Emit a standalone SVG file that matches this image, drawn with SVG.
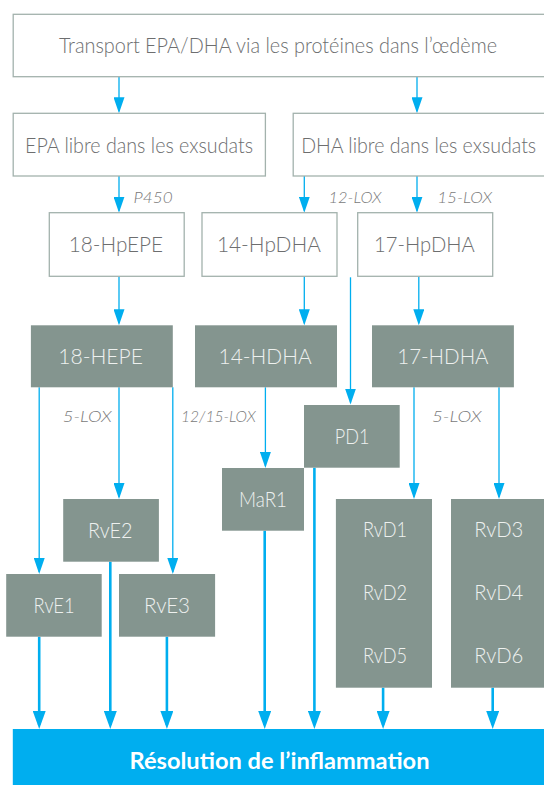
<svg xmlns="http://www.w3.org/2000/svg" width="544" height="785" viewBox="0 0 544 785">
<style>
.wbox{fill:#ffffff;stroke:#a3b2ad;stroke-width:1.3}
.dbox{fill:#84958f}
.wt{font-family:Lato,"Liberation Sans",sans-serif;font-weight:300;font-size:21.5px;fill:#6d6e6f;text-anchor:middle}
.dt{font-family:Lato,"Liberation Sans",sans-serif;font-weight:300;font-size:21.5px;fill:#eef1ef;text-anchor:middle}
.lbl{font-family:Lato,"Liberation Sans",sans-serif;font-weight:300;font-style:italic;font-size:16px;fill:#7a7a7a}
.res{font-family:Lato,"Liberation Sans",sans-serif;font-weight:700;font-size:23px;fill:#ffffff;text-anchor:middle}
.thin{stroke:#00aeef;stroke-width:1.3;fill:none;marker-end:url(#ah)}
.thick{stroke:#00aeef;stroke-width:2.6;fill:none;marker-end:url(#ahb)}
</style>
<defs>
<marker id="ah" markerUnits="userSpaceOnUse" markerWidth="16" markerHeight="11" viewBox="0 0 16 11" refX="14" refY="5.5" orient="auto">
<path d="M0,0 L16,5.5 L0,11 z" fill="#00aeef"/>
</marker>
<marker id="ahb" markerUnits="userSpaceOnUse" markerWidth="18" markerHeight="13" viewBox="0 0 18 13" refX="14" refY="6.5" orient="auto">
<path d="M0,0 L18,6.5 L0,13 z" fill="#00aeef"/>
</marker>
</defs>

<g id="connectors">
<line class="thin" x1="119" y1="76.7" x2="119" y2="111.3"/>
<line class="thin" x1="417" y1="76.7" x2="417" y2="111.3"/>
<line class="thin" x1="119" y1="176" x2="119" y2="210.7"/>
<line class="thin" x1="304.3" y1="176" x2="304.3" y2="210.7"/>
<line class="thin" x1="417" y1="176" x2="417" y2="210.7"/>
<line class="thin" x1="119" y1="276.3" x2="119" y2="323.3"/>
<line class="thin" x1="304.3" y1="276.3" x2="304.3" y2="323.3"/>
<line class="thin" x1="418.8" y1="276.3" x2="418.8" y2="323.3"/>
<line class="thin" x1="350.5" y1="277.3" x2="350.5" y2="402.5"/>
<line class="thin" x1="39.2" y1="387.3" x2="39.2" y2="572"/>
<line class="thin" x1="119" y1="387.3" x2="119" y2="497"/>
<line class="thin" x1="172.8" y1="387.3" x2="172.8" y2="572"/>
<line class="thin" x1="265.4" y1="387.3" x2="265.4" y2="466"/>
<line class="thin" x1="414" y1="387.3" x2="414" y2="497"/>
<line class="thin" x1="499" y1="387.3" x2="499" y2="497"/>
<line class="thick" x1="39.2" y1="636.7" x2="39.2" y2="725"/>
<line class="thick" x1="110.3" y1="561.7" x2="110.3" y2="725"/>
<line class="thick" x1="166.9" y1="636.7" x2="166.9" y2="725"/>
<line class="thick" x1="264.7" y1="530.7" x2="264.7" y2="725"/>
<line class="thick" x1="314.4" y1="467.7" x2="314.4" y2="725"/>
<line class="thick" x1="383.1" y1="687.7" x2="383.1" y2="725"/>
<line class="thick" x1="492.7" y1="687.7" x2="492.7" y2="725"/>
</g>

<g id="labels">
<text class="lbl" x="133.6" y="202.7" textLength="39" lengthAdjust="spacingAndGlyphs">P450</text>
<text class="lbl" x="328.6" y="202.7" textLength="53" lengthAdjust="spacingAndGlyphs">12-LOX</text>
<text class="lbl" x="437.2" y="202.7" textLength="55" lengthAdjust="spacingAndGlyphs">15-LOX</text>
<text class="lbl" x="62.8" y="421.7" textLength="49" lengthAdjust="spacingAndGlyphs">5-LOX</text>
<text class="lbl" x="181.1" y="421.7" textLength="74.6" lengthAdjust="spacingAndGlyphs">12/15-LOX</text>
<text class="lbl" x="432" y="421.7" textLength="49.6" lengthAdjust="spacingAndGlyphs">5-LOX</text>
</g>

<g id="transport">
<rect class="wbox" x="13.2" y="14.3" width="540" height="62.4"/>
<text class="wt" x="278" y="53.3" textLength="438" lengthAdjust="spacingAndGlyphs">Transport EPA/DHA via les protéines dans l’œdème</text>
</g>
<g id="epa">
<rect class="wbox" x="13.2" y="113.3" width="252.2" height="62.7"/>
<text class="wt" x="139" y="153.3" textLength="228" lengthAdjust="spacingAndGlyphs">EPA libre dans les exsudats</text>
</g>
<g id="dha">
<rect class="wbox" x="293.2" y="113.3" width="260" height="62.7"/>
<text class="wt" x="418.7" y="153.3" textLength="235" lengthAdjust="spacingAndGlyphs">DHA libre dans les exsudats</text>
</g>
<g id="hpepe18">
<rect class="wbox" x="49.3" y="212.7" width="134.9" height="63.6"/>
<text class="wt" x="115.9" y="251.7" textLength="94.4" lengthAdjust="spacingAndGlyphs">18-HpEPE</text>
</g>
<g id="hpdha14">
<rect class="wbox" x="202" y="212.7" width="135" height="63.6"/>
<text class="wt" x="268.9" y="251.7" textLength="104" lengthAdjust="spacingAndGlyphs">14-HpDHA</text>
</g>
<g id="hpdha17">
<rect class="wbox" x="357.7" y="212.7" width="135" height="63.6"/>
<text class="wt" x="424.4" y="251.7" textLength="100.6" lengthAdjust="spacingAndGlyphs">17-HpDHA</text>
</g>
<g id="hepe18">
<rect class="dbox" x="30.9" y="325.3" width="141.9" height="62"/>
<text class="dt" x="100.6" y="364" textLength="84.7" lengthAdjust="spacingAndGlyphs">18-HEPE</text>
</g>
<g id="hdha14">
<rect class="dbox" x="195" y="325.3" width="142" height="62"/>
<text class="dt" x="265.1" y="364" textLength="93" lengthAdjust="spacingAndGlyphs">14-HDHA</text>
</g>
<g id="hdha17">
<rect class="dbox" x="372" y="325.3" width="141.9" height="62"/>
<text class="dt" x="442.9" y="364" textLength="91.3" lengthAdjust="spacingAndGlyphs">17-HDHA</text>
</g>
<g id="pd1">
<rect class="dbox" x="304" y="405" width="95.7" height="62.7"/>
<text class="dt" x="352.2" y="444" textLength="34.7" lengthAdjust="spacingAndGlyphs">PD1</text>
</g>
<g id="mar1">
<rect class="dbox" x="222" y="468" width="82" height="62.7"/>
<text class="dt" x="263" y="507.3" textLength="47.9" lengthAdjust="spacingAndGlyphs">MaR1</text>
</g>
<g id="rve2">
<rect class="dbox" x="63.2" y="499" width="95.7" height="62.7"/>
<text class="dt" x="110.3" y="537.7" textLength="44.4" lengthAdjust="spacingAndGlyphs">RvE2</text>
</g>
<g id="rve1">
<rect class="dbox" x="6.2" y="574" width="95.5" height="62.7"/>
<text class="dt" x="54.1" y="613.3" textLength="41" lengthAdjust="spacingAndGlyphs">RvE1</text>
</g>
<g id="rve3">
<rect class="dbox" x="119" y="574" width="96.1" height="62.7"/>
<text class="dt" x="167" y="613.3" textLength="46.1" lengthAdjust="spacingAndGlyphs">RvE3</text>
</g>
<g id="rvd125">
<rect class="dbox" x="335.9" y="499" width="96.1" height="188.7"/>
<text class="dt" x="385" y="537.3" textLength="44" lengthAdjust="spacingAndGlyphs">RvD1</text>
<text class="dt" x="385" y="600" textLength="44" lengthAdjust="spacingAndGlyphs">RvD2</text>
<text class="dt" x="385" y="663.3" textLength="44" lengthAdjust="spacingAndGlyphs">RvD5</text>
</g>
<g id="rvd346">
<rect class="dbox" x="451" y="499" width="96" height="188.7"/>
<text class="dt" x="498.8" y="537.3" textLength="49" lengthAdjust="spacingAndGlyphs">RvD3</text>
<text class="dt" x="498.8" y="600" textLength="49" lengthAdjust="spacingAndGlyphs">RvD4</text>
<text class="dt" x="498.8" y="663.3" textLength="49" lengthAdjust="spacingAndGlyphs">RvD6</text>
</g>
<g id="resolution">
<rect x="12.8" y="729" width="540" height="60" fill="#00aeef"/>
<text class="res" x="279.5" y="769.3" textLength="300" lengthAdjust="spacingAndGlyphs">Résolution de l’inflammation</text>
</g>
</svg>
